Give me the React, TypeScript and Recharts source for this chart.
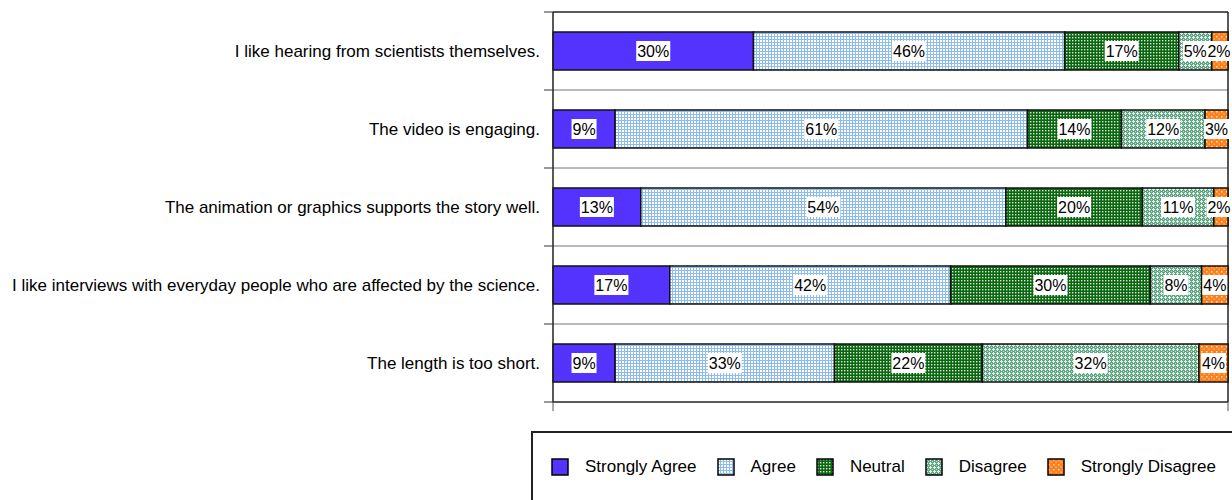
import React from 'react';
import { BarChart, Bar, XAxis, YAxis, CartesianGrid, LabelList } from 'recharts';

const statements = [
  'I like hearing from scientists themselves.',
  'The video is engaging.',
  'The animation or graphics supports the story well.',
  'I like interviews with everyday people who are affected by the science.',
  'The length is too short.',
];
// shares; the printed labels are these rounded
const stronglyAgree = [29.7, 9.2, 13.0, 17.3, 9.2];
const agree = [46.1, 61.1, 54.1, 41.6, 32.5];
const neutral = [16.9, 13.9, 20.2, 29.6, 21.9];
const disagree = [4.9, 12.4, 10.6, 7.6, 32.1];
const stronglyDisagree = [2.4, 3.4, 2.1, 3.9, 4.3];

const series = [
  { key: 'sa', name: 'Strongly Agree', fill: '#5533ff', pattern: '' },
  { key: 'a', name: 'Agree', fill: '', pattern: 'agree' },
  { key: 'n', name: 'Neutral', fill: '', pattern: 'neutral' },
  { key: 'd', name: 'Disagree', fill: '', pattern: 'disagree' },
  { key: 'sd', name: 'Strongly Disagree', fill: '', pattern: 'sdis' },
];

const data = statements.map((s, i) => ({
  name: s,
  sa: stronglyAgree[i],
  a: agree[i],
  n: neutral[i],
  d: disagree[i],
  sd: stronglyDisagree[i],
}));

const W = 1232;
const H = 500;
const M = { top: 12, right: 4, bottom: 78, left: 0 };
const XAXIS_H = 20;
const YAXIS_W = 553;
const FONT = '"Liberation Sans", Arial, sans-serif';
const FS = 17;

// hatch patterns, prefixed so the legend swatches get their own copies
function Patterns({ prefix }: { prefix: string }) {
  return (
    <defs>
      <pattern id={`${prefix}agree`} width="3" height="3" patternUnits="userSpaceOnUse">
        <rect width="3" height="3" fill="#ffffff" />
        <rect width="3" height="1" fill="#8dbcef" />
        <rect width="1" height="3" fill="#8dbcef" />
      </pattern>
      <pattern id={`${prefix}neutral`} width="3" height="3" patternUnits="userSpaceOnUse">
        <rect width="3" height="3" fill="#0a660f" />
        <rect x="1" y="1" width="1.4" height="1.4" fill="#ffffff" fillOpacity={0.85} />
      </pattern>
      <pattern id={`${prefix}disagree`} width="4" height="4" patternUnits="userSpaceOnUse">
        <rect width="4" height="4" fill="#5fa882" />
        <rect x="1" y="0" width="1" height="1" fill="#ffffff" />
        <rect x="0" y="1" width="3" height="1" fill="#ffffff" fillOpacity={0.8} />
        <rect x="1" y="2" width="1" height="1" fill="#ffffff" />
        <rect x="3" y="3" width="1" height="1" fill="#ffffff" fillOpacity={0.6} />
      </pattern>
      <pattern id={`${prefix}sdis`} width="5" height="5" patternUnits="userSpaceOnUse">
        <rect width="5" height="5" fill="#ff7f1a" />
        <rect x="1" y="1" width="1.5" height="1.5" fill="#ffe2c8" />
        <rect x="3.5" y="3.5" width="1.2" height="1.2" fill="#ffd2aa" />
      </pattern>
    </defs>
  );
}

const fillFor = (s: typeof series[number], prefix: string) =>
  s.pattern ? `url(#${prefix}${s.pattern})` : s.fill;

const SegmentLabel = (props: any) => {
  const { x, y, width, height, value } = props;
  const text = `${Math.round(value)}%`;
  const tw = text.length === 2 ? 23 : 32;
  // keep tiny end-segment labels inside the page
  const cx = Math.min(x + width / 2, W - tw / 2 - 1.5);
  const cy = y + height / 2;
  return (
    <g>
      <rect x={cx - tw / 2 - 1} y={cy - 10} width={tw + 2} height={20} fill="#ffffff" />
      <text x={cx} y={cy + 6} textAnchor="middle" fontSize={16} fontFamily={FONT} fill="#000">
        {text}
      </text>
    </g>
  );
};

const half = (H - M.top - M.bottom - XAXIS_H) / statements.length / 2;

const CategoryTick = (props: any) => {
  const { y, payload, index } = props;
  return (
    <g>
      <line x1={YAXIS_W - 9} x2={YAXIS_W} y1={y - half} y2={y - half} stroke="#333" />
      {index === statements.length - 1 && (
        <line x1={YAXIS_W - 9} x2={YAXIS_W} y1={y + half} y2={y + half} stroke="#333" />
      )}
      <text x={YAXIS_W - 13} y={y + 6} textAnchor="end" fontSize={FS} fontFamily={FONT} fill="#000">
        {payload.value}
      </text>
    </g>
  );
};

const LegendBox = () => (
  <div
    style={{
      position: 'absolute',
      left: 531,
      top: 431,
      boxSizing: 'border-box',
      width: 710,
      height: 80,
      border: '2px solid #222',
      display: 'flex',
      alignItems: 'center',
      paddingLeft: 18,
      paddingBottom: 8,
      fontFamily: FONT,
      fontSize: FS,
      color: '#000',
    }}
  >
    {series.map((s) => (
      <div key={s.key} style={{ display: 'flex', alignItems: 'center', marginRight: 20 }}>
        <svg width={18} height={18} style={{ marginRight: 16 }}>
          <Patterns prefix={`lg-${s.key}-`} />
          <rect x={1} y={1} width={16} height={16} fill={fillFor(s, `lg-${s.key}-`)} stroke="#000" strokeWidth={1.5} />
        </svg>
        <span>{s.name}</span>
      </div>
    ))}
  </div>
);

export default function App() {
  return (
    <div style={{ position: 'absolute', left: 0, top: 0, width: W, height: H, background: '#fff', overflow: 'hidden' }}>
      <BarChart
        width={W}
        height={H}
        data={data}
        layout="vertical"
        stackOffset="expand"
        margin={M}
        barSize={38}
      >
        <Patterns prefix="" />
        <CartesianGrid
          vertical={false}
          stroke="#777"
          horizontalCoordinatesGenerator={({ offset }: any) =>
            statements.slice(1).map((_, i) => offset.top + ((i + 1) * offset.height) / statements.length)
          }
        />
        <CartesianGrid
          stroke="#222"
          strokeWidth={1.5}
          horizontalCoordinatesGenerator={({ offset }: any) => [offset.top]}
          verticalCoordinatesGenerator={({ offset }: any) => [offset.left + offset.width]}
        />
        <XAxis
          type="number"
          domain={[0, 1]}
          ticks={[0, 1]}
          tickFormatter={() => ''}
          tickSize={9}
          axisLine={{ stroke: '#222', strokeWidth: 1.5 }}
          tickLine={{ stroke: '#555' }}
          height={XAXIS_H}
        />
        <YAxis
          type="category"
          dataKey="name"
          width={YAXIS_W}
          tick={<CategoryTick />}
          tickLine={false}
          axisLine={{ stroke: '#222', strokeWidth: 1.5 }}
          interval={0}
        />
        {series.map((s) => (
          <Bar
            key={s.key}
            dataKey={s.key}
            name={s.name}
            stackId="all"
            fill={fillFor(s, '')}
            stroke="#111"
            strokeWidth={1.5}
            isAnimationActive={false}
          >
            <LabelList dataKey={s.key} content={<SegmentLabel />} />
          </Bar>
        ))}
      </BarChart>
      <LegendBox />
    </div>
  );
}
